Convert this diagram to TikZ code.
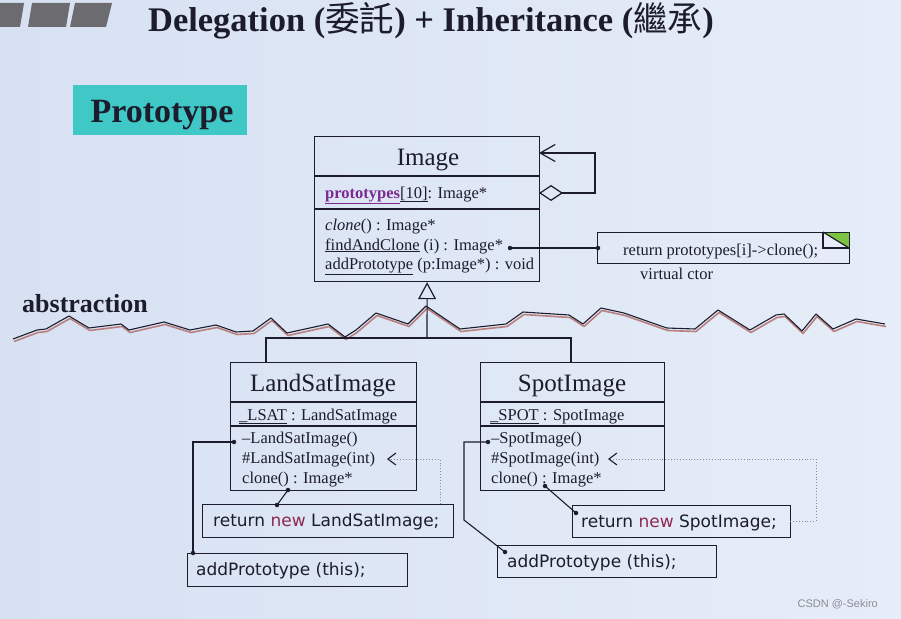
\documentclass[tikz,border=0pt]{standalone}
\usepackage{fontspec}
\setmainfont{Liberation Serif}
\newfontfamily\cjkfont{Noto Sans CJK TC}
\newfontfamily\codefont{DejaVu Sans}
\newfontfamily\wmfont{Liberation Sans}
\usetikzlibrary{arrows.meta}
\definecolor{ink}{HTML}{1C1C2C}
\definecolor{bgL}{HTML}{D7E1F2}
\definecolor{bgR}{HTML}{E6EDF9}
\definecolor{teal1}{HTML}{40C8C6}
\definecolor{purp}{HTML}{7A2A90}
\definecolor{newred}{HTML}{8E2850}
\definecolor{notegreen}{HTML}{7CC243}
\definecolor{wavepink}{HTML}{B98080}
\definecolor{dotgray}{HTML}{8A8A95}
\definecolor{wmgray}{HTML}{8C8C96}
\definecolor{barg}{HTML}{6B6B70}
\begin{document}
\begin{tikzpicture}[x=1pt,y=-1pt,
  box/.style={draw=ink, line width=1.2pt, inner sep=0pt, anchor=north west},
  txt/.style={anchor=base west, inner sep=0pt, text=ink, font=\fontsize{16.5}{18}\selectfont},
  ctxt/.style={anchor=base, inner sep=0pt, text=ink, font=\fontsize{25}{28}\selectfont},
  code/.style={anchor=base west, inner sep=0pt, text=ink, font=\codefont\fontsize{17}{19}\selectfont},
  dotc/.style={circle, fill=ink, inner sep=0pt, minimum size=4.5pt},
  conn/.style={draw=ink, line width=1.1pt},
  divider/.style={draw=ink, line width=1.2pt},
  dep/.style={draw=dotgray, line width=0.9pt, dotted, -{Straight Barb[length=8pt,width=12pt,line width=1.1pt,color=ink]}}]
\useasboundingbox (0,0) rectangle (901,618);
\shade[left color=bgL, right color=bgR] (0,0) rectangle (901,618);

% header bars
\fill[barg] (0,3) -- (24,3) -- (20,27) -- (0,27) -- cycle;
\fill[barg] (32,3) -- (70,3) -- (66,27) -- (28,27) -- cycle;
\fill[barg] (75,3) -- (112,3) -- (106,27) -- (70,27) -- cycle;

% title
\node[anchor=base, inner sep=0pt, text=ink, font=\bfseries\fontsize{34.5}{38}\selectfont] (title) at (431,32)
  {Delegation ({\mdseries\cjkfont 委託}) + Inheritance ({\mdseries\cjkfont 繼承})};

% prototype tag
\node[fill=teal1, minimum width=174pt, minimum height=50pt, anchor=north west, inner sep=0pt] (proto) at (73,85) {};
\node[anchor=base, inner sep=0pt, text=ink, font=\bfseries\fontsize{34}{36}\selectfont] (protot) at (162,122) {Prototype};

% Image class
\node[box, minimum width=225pt, minimum height=145pt] (img) at (314,136) {};
\draw[divider] (img.west |- 0,176) -- (img.east |- 0,176);
\draw[divider] (img.west |- 0,209) -- (img.east |- 0,209);
\node[ctxt] (imgname) at (428,165) {Image};
\node[txt] (protos) at (325,198) {\textcolor{purp}{\underline{\textbf{prototypes}}}\underline{[10]}: Image*};
\node[txt] (mclone) at (325,230) {\textit{clone}() : Image*};
\node[txt] (mfind) at (325,250) {\underline{findAndClone} (i) : Image*};
\node[txt] (madd) at (325,269) {\underline{addPrototype} (p:Image*) : void};

% self aggregation
\coordinate (aggA) at (539,193);
\coordinate (aggB) at (595,193);
\coordinate (aggC) at (595,153);
\coordinate (aggD) at (539,153);
\draw[conn, {Diamond[open,length=24pt,width=16pt,line width=1.2pt]}-{Straight Barb[length=15pt,width=17pt,line width=1.2pt]}]
  (aggA) -- (aggB) -- (aggC) -- (aggD);

% note
\fill[notegreen] (823,232) -- (849,232) -- (849,248) -- cycle;
\node[box, minimum width=252pt, minimum height=31pt] (note) at (597,232) {};
\draw[divider] (823,232) -- (823,248) -- (849,248);
\draw[divider] (823,232) -- (849,248);
\node[txt] (notetxt) at (623,255) {return prototypes[i]->clone();};
\node[txt] (vctor) at (640,279) {virtual ctor};
\node[dotc] (dfind) at (510,248) {};
\node[dotc] (dnote) at (598,248) {};
\draw[conn] (dfind.center) -- (dnote.center);

% abstraction
\node[anchor=base west, inner sep=0pt, text=ink, font=\bfseries\fontsize{26}{28}\selectfont] (abs) at (22,312) {abstraction};
\def\wavepts{(13,339) -- (37,330) -- (46,329) -- (69,316) -- (89,328) -- (121,324) -- (129,330) -- (164,322) -- (190,330) -- (216,325) -- (236,332) -- (253,331) -- (271,318) -- (287,333) -- (328,324) -- (345,337) -- (356,330) -- (376,313) -- (408,324) -- (426,306) -- (460,329) -- (506,324) -- (523,312) -- (569,315) -- (583,324) -- (601,308) -- (624,313) -- (661,326) -- (667,328) -- (695,329) -- (718,310) -- (750,330) -- (776,315) -- (784,314) -- (802,331) -- (816,314) -- (833,329) -- (856,319) -- (885,324)}
\draw[wavepink, line width=1.6pt, line join=round, shift={(1,2.5)}] \wavepts;
\draw[ink, line width=1.1pt, line join=round] \wavepts;

% inheritance
\coordinate (inhJ) at (427,338);
\coordinate (lsTop) at (266,362);
\coordinate (spTop) at (571,362);
\draw[conn, -{Triangle[open,length=17pt,width=18pt,line width=1.2pt]}] (inhJ) -- (img.south);
\draw[conn] (lsTop) |- (inhJ) -| (spTop);

% LandSatImage
\node[box, minimum width=186pt, minimum height=128pt] (ls) at (230,362) {};
\draw[divider] (ls.west |- 0,402) -- (ls.east |- 0,402);
\draw[divider] (ls.west |- 0,426) -- (ls.east |- 0,426);
\node[ctxt] (lsname) at (323,391) {LandSatImage};
\node[txt] (lsattr) at (239,420) {\underline{\_LSAT} : LandSatImage};
\node[txt] (lsm1) at (242,443) {–LandSatImage()};
\node[txt] (lsm2) at (242,463) {\#LandSatImage(int)};
\node[txt] (lsm3) at (242,483) {clone() : Image*};

\node[box, minimum width=251pt, minimum height=33pt] (lsret) at (202,504) {};
\node[code] (lsrett) at (213,526) {return \textcolor{newred}{new} LandSatImage;};
\node[box, minimum width=220pt, minimum height=33pt] (lsadd) at (187,553) {};
\node[code] (lsaddt) at (196,575) {addPrototype (this);};

\node[dotc] (lsd1) at (234,442) {};
\coordinate (lsbend) at (193,442);
\node[dotc] (lsd2) at (193,553) {};
\draw[conn] (lsd1.center) -- (lsbend) -- (lsd2.center);
\node[dotc] (lsd3) at (288,490) {};
\node[dotc] (lsd4) at (277,505) {};
\draw[conn] (lsd3.center) -- (lsd4.center);
\coordinate (lsdepA) at (440,504);
\coordinate (lsdepB) at (440,459);
\coordinate (lsdepC) at (387,459);
\draw[dep] (lsdepA) -- (lsdepB) -- (lsdepC);

% SpotImage
\node[box, minimum width=184pt, minimum height=128pt] (sp) at (480,362) {};
\draw[divider] (sp.west |- 0,402) -- (sp.east |- 0,402);
\draw[divider] (sp.west |- 0,426) -- (sp.east |- 0,426);
\node[ctxt] (spname) at (572,391) {SpotImage};
\node[txt] (spattr) at (490,420) {\underline{\_SPOT} : SpotImage};
\node[txt] (spm1) at (491,443) {–SpotImage()};
\node[txt] (spm2) at (491,463) {\#SpotImage(int)};
\node[txt] (spm3) at (491,483) {clone() : Image*};

\node[box, minimum width=218pt, minimum height=32pt] (spret) at (572,505) {};
\node[code] (sprett) at (581,527) {return \textcolor{newred}{new} SpotImage;};
\node[box, minimum width=219pt, minimum height=32pt] (spadd) at (497,545) {};
\node[code] (spaddt) at (507,567) {addPrototype (this);};

\node[dotc] (spd1) at (488,442) {};
\coordinate (spbendA) at (464,442);
\coordinate (spbendB) at (464,520);
\node[dotc] (spd2) at (505,552) {};
\draw[conn] (spd1.center) -- (spbendA) -- (spbendB) -- (spd2.center);
\node[dotc] (spd3) at (545,486) {};
\node[dotc] (spd4) at (576,513) {};
\draw[conn] (spd3.center) -- (spd4.center);
\coordinate (spdepA) at (790,521);
\coordinate (spdepB) at (816,521);
\coordinate (spdepC) at (816,459);
\coordinate (spdepD) at (608,459);
\draw[dep] (spdepA) -- (spdepB) -- (spdepC) -- (spdepD);

% watermark
\node[anchor=base east, inner sep=0pt, font=\wmfont\fontsize{11}{12}\selectfont, text=wmgray] (wm) at (878,607) {CSDN @-Sekiro};
\end{tikzpicture}
\end{document}
